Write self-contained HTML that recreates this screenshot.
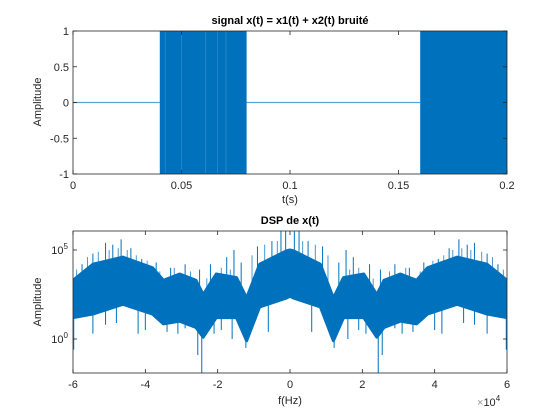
<!DOCTYPE html>
<html><head><meta charset="utf-8"><style>
body{margin:0;background:#fff;}
svg{display:block;font-family:"Liberation Sans","DejaVu Sans",sans-serif;}
</style></head><body>
<svg id="fig" width="560" height="420" viewBox="0 0 560 420" xmlns="http://www.w3.org/2000/svg">
<rect width="560" height="420" fill="#fff"/>
<g id="topg"></g>
<g id="botg"></g>
</svg>
<script>
// ---- top chart data ----
const zeroSegments = [[0,0.04],[0.08,0.16]];
const burstSegments = [[0.04,0.08],[0.16,0.2]];
const burstGaps = [0.0425,0.05,0.061,0.0665,0.0705];
const topXTicks = [0,0.05,0.1,0.15,0.2];
const topXTickLabels = ['0','0.05','0.1','0.15','0.2'];
const topYTicks = [-1,-0.5,0,0.5,1];
const topYTickLabels = ['-1','-0.5','0','0.5','1'];
// ---- bottom chart data (log10 amplitude), f in units of 1e4 Hz, mirrored about 0 ----
const envFreq  = [-6,-5.45,-4.62,-3.8,-3.5,-3.05,-2.6,-2.4,-2.04,-1.48,-1.2,-0.84,-0.1,0];
const envUpper = [3.3,4.2,4.6,4.0,3.3,3.65,3.3,2.5,3.65,3.45,2.3,4.2,4.95,5.0];
const envLower = [1.2,1.4,1.95,1.4,0.85,1.0,0.65,0.1,1.2,1.2,-0.1,1.8,2.3,2.4];
const spikeFreq = [-5.45,-5.1,-4.9,-4.67,-4.4,-4.1,-3.3,-2.9,-2.5,-2.2,-1.75,-1.55,-0.9,-0.5,-0.25,-0.12,-5.75,-3.7,-1.35,
                   -5.45,-5.1,-4.2,-4.0,-3.4,-2.9,-2.55,-2.44,-2.1,-1.6,-1.22,-0.6,-5.98,-4.8,-3.1,-1.9];
const spikeVal  = [4.8,5.4,5.3,5.6,5.1,4.5,4.0,4.2,3.9,4.2,4.6,5.0,5.2,5.5,6.1,6.1,4.2,4.3,4.3,
                   0.3,0.8,0.3,0.5,0.4,0.6,-0.9,-1.9,0.3,0.0,-0.5,0.4,-0.6,0.9,0.3,0.5];
const fringeFreq = [-5.9,-5.6,-5.3,-5.0,-4.75,-4.5,-4.25,-3.95,-3.6,-3.2,-2.75,-2.3,-1.9,-1.65,-1.05,-0.7,-0.35];
const fringeVal  = [3.9,4.6,4.9,5.0,5.1,5.0,4.7,4.4,3.8,4.0,3.8,3.4,4.0,3.9,4.7,5.3,5.5];
const botXTicks = [-6,-4,-2,0,2,4,6];
const botXTickLabels = ['-6','-4','-2','0','2','4','6'];
const botYTicks = [0,5];
const botYTickLabels = ['0','5'];

const NS='http://www.w3.org/2000/svg';
function mk(parent,tag,attrs,text){const e=document.createElementNS(NS,tag);for(const k in attrs)e.setAttribute(k,attrs[k]);if(text!==undefined)e.textContent=text;parent.appendChild(e);return e;}
const C='#0072BD', TC='#262626';
const L=73,R=507;
const tT=31,tB=174;
const tx=v=>L+(v-0)/(0.2)*(R-L);
const ty=v=>tT+(1-v)/2*(tB-tT);
const topG=document.getElementById('topg');
for(const s of zeroSegments){const e=mk(topG,'line',{x1:tx(s[0]),x2:tx(s[1]),y1:ty(0),y2:ty(0),stroke:'#5aa3d8','stroke-width':1.3});

}
for(const s of burstSegments){const e=mk(topG,'rect',{x:tx(s[0]),y:ty(1),width:tx(s[1])-tx(s[0]),height:ty(-1)-ty(1),fill:C});

}
for(const g of burstGaps){const e=mk(topG,'line',{x1:tx(g),x2:tx(g),y1:ty(1),y2:ty(-1),stroke:'#3b8fd0','stroke-width':0.6});

}
function axes(g,T0,B0,xt,xl,xf,yt,yl,yf,log){
  const b=mk(g,'rect',{x:L,y:T0,width:R-L,height:B0-T0,fill:'none',stroke:TC,'stroke-width':0.8});
  
  
  xt.forEach((v,i)=>{const x=xf(v);
    mk(g,'line',{x1:x,x2:x,y1:B0,y2:B0-4,stroke:TC,'stroke-width':0.8});
    mk(g,'line',{x1:x,x2:x,y1:T0,y2:T0+4,stroke:TC,'stroke-width':0.8});
    const t=mk(g,'text',{x:x,y:B0+15,'font-size':11,fill:TC,'text-anchor':'middle'},xl[i]);
    
    });
  yt.forEach((v,i)=>{const y=yf(v);
    mk(g,'line',{x1:L,x2:L+4,y1:y,y2:y,stroke:TC,'stroke-width':0.8});
    mk(g,'line',{x1:R,x2:R-4,y1:y,y2:y,stroke:TC,'stroke-width':0.8});
    let t;
    if(log){t=mk(g,'text',{x:L-5,y:y+4,'font-size':11,fill:TC,'text-anchor':'end'});
      mk(t,'tspan',{},'10');mk(t,'tspan',{dy:-5,'font-size':8},yl[i]);}
    else t=mk(g,'text',{x:L-4,y:y+4,'font-size':11,fill:TC,'text-anchor':'end'},yl[i]);
    
    });
}
axes(topG,tT,tB,topXTicks,topXTickLabels,tx,topYTicks,topYTickLabels,ty,false);
let e;
e=mk(topG,'text',{x:290,y:24,'font-size':11,'font-weight':'bold',fill:'#000','text-anchor':'middle'},'signal x(t) = x1(t) + x2(t) bruité');

e=mk(topG,'text',{x:290,y:203,'font-size':11,fill:TC,'text-anchor':'middle'},'t(s)');

e=mk(topG,'text',{x:41,y:102,'font-size':11,fill:TC,'text-anchor':'middle',transform:'rotate(-90 41 102)'},'Amplitude');


const bT=231,bB=373;
const bx=v=>L+(v+6)/12*(R-L);
const by=v=>250+(5-v)*17.8;
const botG=document.getElementById('botg');
const cp=mk(botG,'clipPath',{id:'clipb'});
mk(cp,'rect',{x:L,y:bT,width:R-L,height:bB-bT});
const fF=[],fU=[],fLw=[];
envFreq.forEach((f,i)=>{fF.push(f);fU.push(envUpper[i]);fLw.push(envLower[i]);});
for(let i=envFreq.length-2;i>=0;i--){fF.push(-envFreq[i]);fU.push(envUpper[i]);fLw.push(envLower[i]);}
let d='M'+fF.map((f,i)=>bx(f)+','+by(fU[i])).join(' L');
for(let i=fF.length-1;i>=0;i--)d+=' L'+bx(fF[i])+','+by(fLw[i]);
function envAt(f,arr){const a=-Math.abs(f);for(let i=0;i<envFreq.length-1;i++){if(a>=envFreq[i]&&a<=envFreq[i+1]){const t=(a-envFreq[i])/(envFreq[i+1]-envFreq[i]);return arr[i]+t*(arr[i+1]-arr[i]);}}return arr[arr.length-1];}
// light fringe spikes
fringeFreq.forEach((f,i)=>{[f,-f].forEach(ff=>{
  const s=mk(botG,'line',{x1:bx(ff),x2:bx(ff),y1:by(envAt(ff,envUpper)),y2:by(fringeVal[i]),stroke:'#4a98d4','stroke-width':1,'clip-path':'url(#clipb)'});
  
  });});
e=mk(botG,'path',{d:d+'Z',fill:C,stroke:C,'stroke-width':3,'stroke-linejoin':'round','clip-path':'url(#clipb)'});

const sF=[],sV=[];
spikeFreq.forEach((f,i)=>{sF.push(f,-f);sV.push(spikeVal[i],spikeVal[i]);});
sF.forEach((f,i)=>{const mid=(envAt(f,envUpper)+envAt(f,envLower))/2;
  const s=mk(botG,'line',{x1:bx(f),x2:bx(f),y1:by(mid),y2:by(sV[i]),stroke:C,'stroke-width':1,'clip-path':'url(#clipb)'});
  
  });
axes(botG,bT,bB,botXTicks,botXTickLabels,bx,botYTicks,botYTickLabels,by,true);
e=mk(botG,'text',{x:290,y:224,'font-size':11,'font-weight':'bold',fill:'#000','text-anchor':'middle'},'DSP de x(t)');

e=mk(botG,'text',{x:290,y:404,'font-size':11,fill:TC,'text-anchor':'middle'},'f(Hz)');

e=mk(botG,'text',{x:41,y:302,'font-size':11,fill:TC,'text-anchor':'middle',transform:'rotate(-90 41 302)'},'Amplitude');

e=mk(botG,'text',{x:477,y:406,'font-size':11,fill:TC});
mk(e,'tspan',{fill:'#999'},'×');mk(e,'tspan',{},'10');mk(e,'tspan',{dy:-5,'font-size':8},'4');

</script>
</body></html>
